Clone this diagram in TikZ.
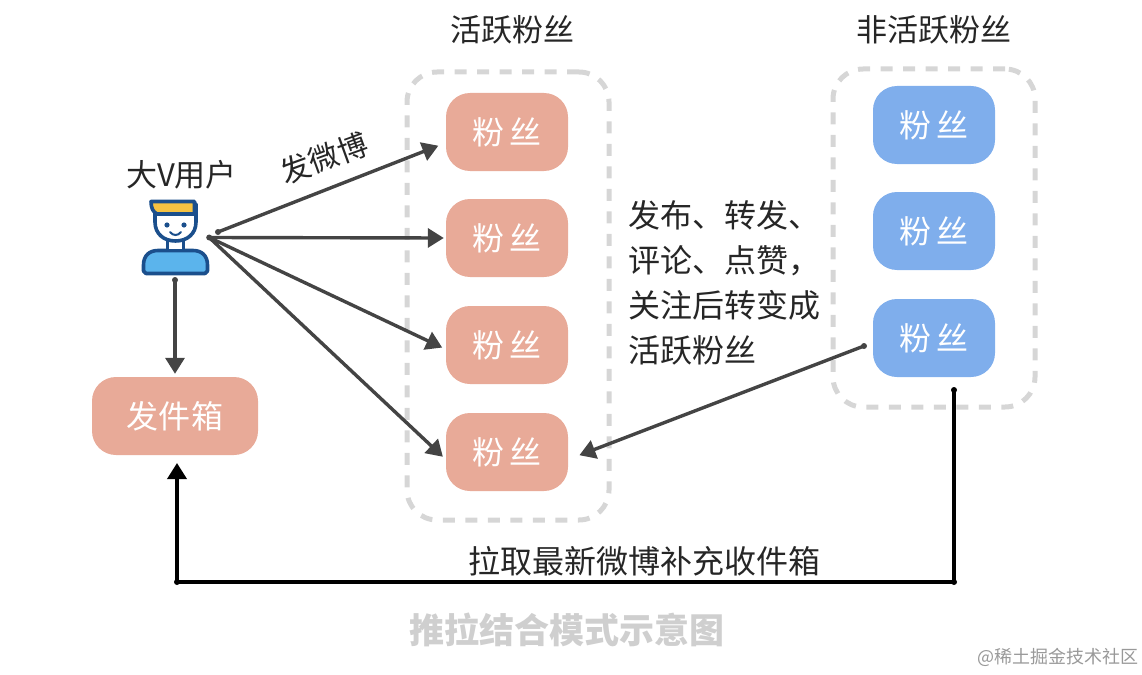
\documentclass[tikz,border=0pt]{standalone}
\usepackage{fontspec}
\setmainfont{Noto Sans CJK SC}
\usetikzlibrary{arrows.meta}

\definecolor{fanred}{HTML}{E8AA98}
\definecolor{fanblue}{HTML}{7FAEEC}
\definecolor{boxgray}{HTML}{D6D6D6}
\definecolor{linegray}{HTML}{444444}
\definecolor{capgray}{HTML}{CFCFCF}
\definecolor{navy}{HTML}{1B4F8C}
\definecolor{capyellow}{HTML}{F5C242}
\definecolor{bodyblue}{HTML}{5BB4EC}

\begin{document}
\begin{tikzpicture}[x=1pt,y=-1pt,>={Triangle[length=16pt,width=19pt]}]
        \tikzstyle{redfan}=[fill=fanred,text=white,rounded corners=24pt,minimum width=122pt,minimum height=78pt,font=\fontsize{32}{32}\selectfont,inner sep=0pt]
        \tikzstyle{bluefan}=[redfan,fill=fanblue]
        \tikzstyle{zone}=[draw=boxgray,line width=5pt,dash pattern=on 12pt off 10.5pt,rounded corners=30pt,inner sep=0pt]
        \tikzstyle{note}=[font=\fontsize{31}{31}\selectfont,text=black!85,inner sep=0pt]
        \tikzstyle{push}=[->,draw=linegray,line width=3.4pt,shorten >=5pt]
        \tikzstyle{pull}=[->,draw=black,line width=3.6pt,line join=round]
        \tikzstyle{icon}=[draw=navy,line width=3.6pt,line join=round]
        \useasboundingbox (0,0) rectangle (1142,674);

        % dashed groups
        \node[zone,minimum width=202pt,minimum height=448pt] (activezone)   at (508,296) {};
        \node[zone,minimum width=202pt,minimum height=338pt] (inactivezone) at (934,238) {};

        % fans
        \foreach \i/\y in {1/132,2/238,3/345,4/452}
            \node[redfan] (active\i) at (507,\y) {粉\,丝};
        \foreach \i/\y in {1/125,2/231,3/338}
            \node[bluefan] (inactive\i) at (934,\y) {粉\,丝};
        \node[redfan,minimum width=166pt] (outbox) at (175,416) {发\kern1pt 件\kern1pt 箱};

        % user icon
        \node[minimum width=67pt,minimum height=75pt,inner sep=0pt] (user) at (175.5,237.5) {};
        \draw[icon,fill=bodyblue] (146,273.5) -- (143.5,271) -- (143.5,265) .. controls (143.5,255) and (150,250.5) .. (158,250.5) -- (193,250.5) .. controls (201,250.5) and (207.5,255) .. (207.5,265) -- (207.5,271) -- (205,273.5) -- cycle;
        \draw[icon,fill=white] (167.5,240) rectangle (183.5,250.5);
        \draw[icon,fill=white] (155,204) -- (155,222) .. controls (155,234) and (164,241) .. (175.5,241) .. controls (187,241) and (196,234) .. (196,222) -- (196,204) -- cycle;
        \draw[icon,fill=capyellow] (151,201.5) -- (194.5,201.5) -- (194.5,214) -- (157,214) .. controls (153,212) and (151,208) .. (151,201.5) -- cycle;
        \fill[navy] (167,225) circle (2.6pt) (184,225) circle (2.6pt);
        \draw[navy,line width=2pt,line cap=round] (170,232) .. controls (173,236) and (178,236) .. (181,232);

        % free ends
        \coordinate (userdot) at (218,232);
        \coordinate (userfoot) at (175,280);
        \coordinate (inactivedot) at (864,346);
        \coordinate (inactivefoot) at (954,390);
        \coordinate (pullcorner) at (954,582);
        \coordinate (pullturn) at (177,582);
        \coordinate (pulltip) at (177,463);

        % push
        \draw[push,shorten >=8pt] (userdot) -- (active1.190);
        \draw[push,shorten >=2pt] (user.east) -- (active2.west);
        \draw[push,shorten >=4pt] (user.east) -- (active3.184);
        \draw[push,shorten >=4pt] (user.east) -- (active4.187);
        \draw[push,shorten >=3pt] (userfoot) -- (outbox.north);
        \fill[linegray] (userdot) circle (3pt) (userfoot) circle (3pt) (user.east) circle (3pt) (inactivedot) circle (3pt);

        % pull
        \draw[push,shorten >=12pt] (inactivedot) -- (active4.353);
        \draw[pull] (inactivefoot) -- (pullcorner) -- (pullturn) -- (pulltip);
        \fill[black] (inactivefoot) circle (3pt) (pullcorner) circle (3pt) (pullturn) circle (3pt);

        % labels
        \node[note] (activetitle)   at (512.5,30) {活跃粉丝};
        \node[note] (inactivetitle) at (933.5,30) {非活跃粉丝};
        \node[note] (userlabel) at (181.5,175) {大V用户};
        \node[note,rotate=20,font=\fontsize{30}{30}\selectfont] (sendlabel) at (324,158) {发微博};
        \node[note,anchor=north west,align=left,font=\fontsize{32}{45}\selectfont] (hintlabel) at (628,200) {发布、转发、\\评论、点赞，\\关注后转变成\\活跃粉丝};
        \node[note,font=\fontsize{32}{32}\selectfont] (pulllabel) at (644.5,561) {拉取最新微博补充收件箱};
        \node[font=\fontsize{35}{35}\selectfont,text=capgray,inner sep=0pt] (caption) at (566.5,630) {\textbf{推拉结合模式示意图}};
        \node[font=\fontsize{18}{18}\selectfont,text=black!40,inner sep=0pt] (watermark) at (1058,657) {@稀土掘金技术社区};
    \end{tikzpicture}
\end{document}
